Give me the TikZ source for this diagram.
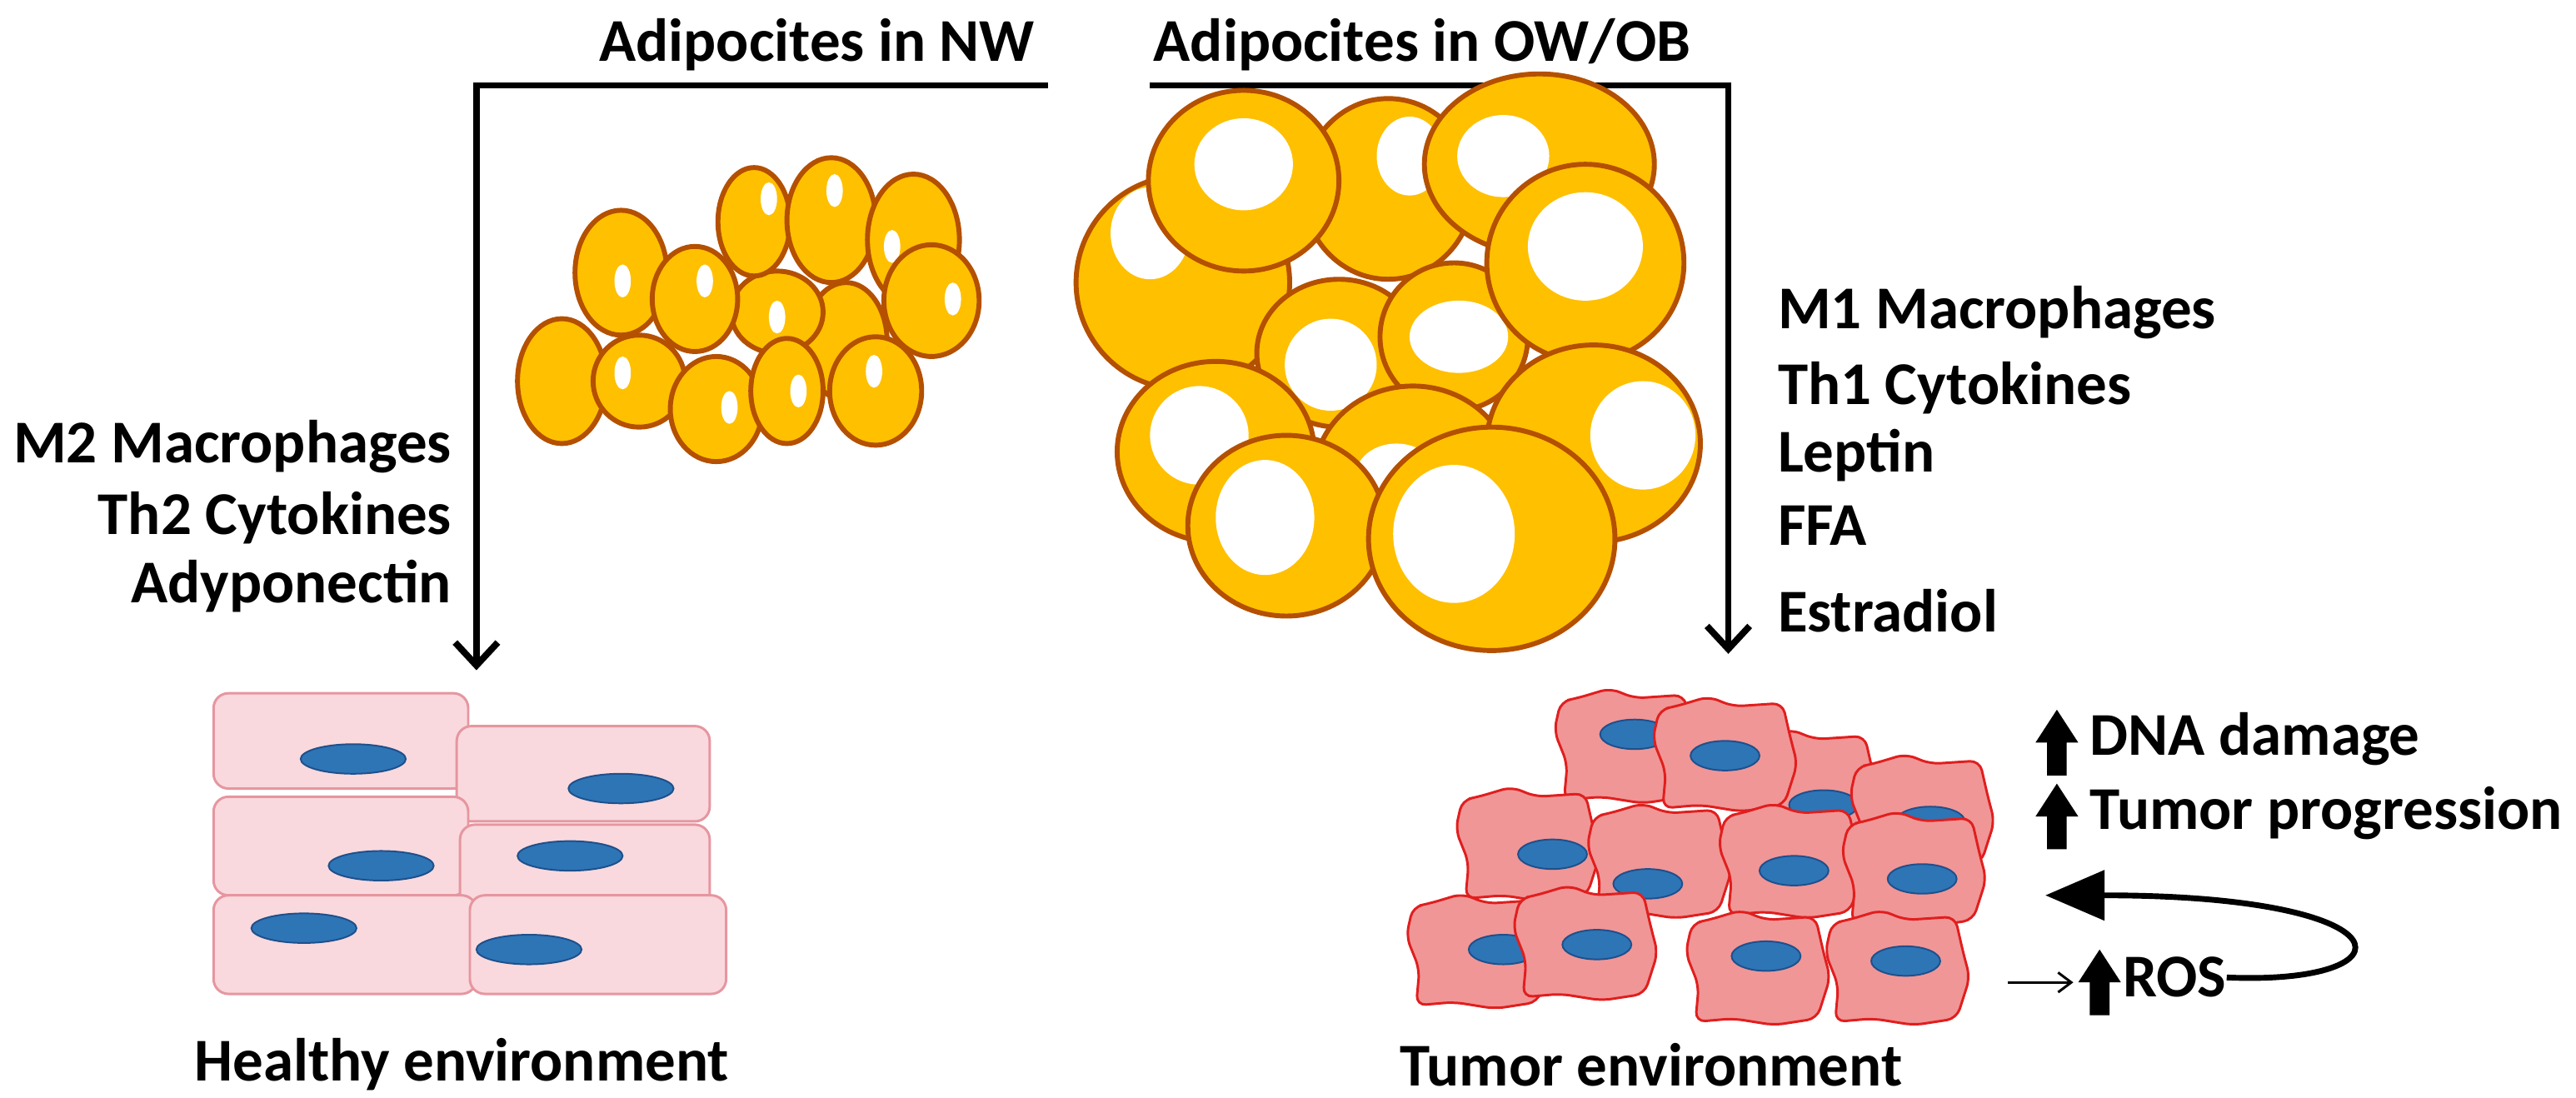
\documentclass[tikz,border=0pt]{standalone}
\usepackage{fontspec}
\setmainfont{Carlito}
\usetikzlibrary{arrows.meta}
\definecolor{fatf}{RGB}{255,192,0}
\definecolor{fatd}{RGB}{180,80,0}
\definecolor{hpink}{RGB}{249,217,221}
\definecolor{hpinkd}{RGB}{230,150,160}
\definecolor{tpink}{RGB}{240,150,150}
\definecolor{tred}{RGB}{225,30,30}
\definecolor{nuc}{RGB}{46,117,182}
\definecolor{nucd}{RGB}{30,80,140}
\tikzset{
 lbl/.style={font=\fontsize{37}{42}\selectfont\bfseries, inner sep=0pt},
 flow/.style={line width=4pt, -{Straight Barb[length=14pt,width=26pt,line width=4pt]}},
 sfat/.style={fill=fatf, draw=fatd, line width=3pt},
 shl/.style={fill=white, draw=none},
 bfat/.style={fill=fatf, draw=fatd, line width=3pt},
 hcell/.style={fill=hpink, draw=hpinkd, line width=1.5pt, rounded corners=9pt},
 tcell/.style={fill=tpink, draw=tred, line width=1.5pt, rounded corners=6pt},
 nucl/.style={fill=nuc, draw=nucd, line width=1pt},
}
\newcommand{\upblk}[2]{\fill (#1-6,#2+20) -- (#1-6,#2) -- (#1-13,#2) -- (#1,#2-20) -- (#1+13,#2) -- (#1+6,#2) -- (#1+6,#2+20) -- cycle;}
\newcommand{\tc}[4]{% x y nucx nucy
 \draw[tcell] (#1-40,#2-28) -- (#1-30,#2-30) -- (#1-10,#2-36) -- (#1+5,#2-30) -- (#1+35,#2-32) -- (#1+40,#2-10) -- (#1+44,#2+5) -- (#1+36,#2+30) -- (#1+10,#2+34) -- (#1-15,#2+30) -- (#1-38,#2+32) -- (#1-36,#2+10) -- (#1-44,#2-10) -- cycle;
 \draw[nucl] (#3,#4) ellipse [x radius=21, y radius=9];}
\begin{document}
\begin{tikzpicture}[x=1pt,y=-1pt]
\useasboundingbox (0,0) rectangle (1568,668);
% titles
\node[lbl, anchor=east] (tnw) at (630,27) {Adipocites in NW};
\node[lbl, anchor=west] (tob) at (702,27) {Adipocites in OW/OB};
\coordinate (l1) at (638,52); \coordinate (l2) at (290,52); \coordinate (l3) at (290,408);
\coordinate (r1) at (700,52); \coordinate (r2) at (1052,52); \coordinate (r3) at (1052,398);
\draw[flow] (l1) -- (l2) -- (l3);
\draw[flow] (r1) -- (r2) -- (r3);
% left labels
\node[lbl, anchor=east] (m2) at (275,272) {M2 Macrophages};
\node[lbl, anchor=east] (th2) at (275,315) {Th2 Cytokines};
\node[lbl, anchor=east] (ady) at (275,357) {Adyponectin};
% right labels
\node[lbl, anchor=west] (m1) at (1082,190) {M1 Macrophages};
\node[lbl, anchor=west] (th1) at (1082,236) {Th1 Cytokines};
\node[lbl, anchor=west] (lep) at (1082,277) {Leptin};
\node[lbl, anchor=west] (ffa) at (1082,320) {FFA};
\node[lbl, anchor=west] (est) at (1082,372) {Estradiol};
\node[lbl] (he) at (281,648) {Healthy environment};
\node[lbl] (te) at (1005,648) {Tumor environment};
% small adipocytes
\draw[sfat] (515,208) ellipse [x radius=25, y radius=36];
\draw[sfat] (473,190) ellipse [x radius=28, y radius=25];
\fill[shl] (473,193) ellipse [x radius=5, y radius=10];
\draw[sfat] (342,232) ellipse [x radius=27, y radius=38];
\draw[sfat] (378,166) ellipse [x radius=28, y radius=38];
\fill[shl] (379,171) ellipse [x radius=5, y radius=10];
\draw[sfat] (389,232) ellipse [x radius=28, y radius=28];
\fill[shl] (379,227) ellipse [x radius=5, y radius=10];
\draw[sfat] (423,182) ellipse [x radius=26, y radius=32];
\fill[shl] (429,171) ellipse [x radius=5, y radius=10];
\draw[sfat] (459,135) ellipse [x radius=22, y radius=33];
\fill[shl] (468,121) ellipse [x radius=5, y radius=10];
\draw[sfat] (506,134) ellipse [x radius=27, y radius=38];
\fill[shl] (508,116) ellipse [x radius=5, y radius=10];
\draw[sfat] (556,146) ellipse [x radius=28, y radius=40];
\fill[shl] (543,150) ellipse [x radius=5, y radius=10];
\draw[sfat] (567,183) ellipse [x radius=29, y radius=34];
\fill[shl] (580,182) ellipse [x radius=5, y radius=10];
\draw[sfat] (436,249) ellipse [x radius=28, y radius=32];
\fill[shl] (444,248) ellipse [x radius=5, y radius=10];
\draw[sfat] (479,238) ellipse [x radius=22, y radius=32];
\fill[shl] (486,238) ellipse [x radius=5, y radius=10];
\draw[sfat] (533,238) ellipse [x radius=28, y radius=33];
\fill[shl] (532,226) ellipse [x radius=5, y radius=10];
% large adipocytes
\draw[bfat] (845,115) ellipse [x radius=52, y radius=55]; \fill[shl] (858,95) ellipse [x radius=20, y radius=24];
\draw[bfat] (720,172) ellipse [x radius=65, y radius=65]; \fill[shl] (700,142) ellipse [x radius=24, y radius=28];
\draw[bfat] (757,110) ellipse [x radius=58, y radius=55]; \fill[shl] (757,100) ellipse [x radius=30, y radius=28];
\draw[bfat] (937,100) ellipse [x radius=70, y radius=55]; \fill[shl] (915,95) ellipse [x radius=28, y radius=25];
\draw[bfat] (815,215) ellipse [x radius=50, y radius=45]; \fill[shl] (810,222) ellipse [x radius=28, y radius=28];
\draw[bfat] (885,205) ellipse [x radius=45, y radius=45]; \fill[shl] (888,205) ellipse [x radius=30, y radius=22];
\draw[bfat] (965,160) ellipse [x radius=60, y radius=60]; \fill[shl] (965,150) ellipse [x radius=35, y radius=33];
\draw[bfat] (740,275) ellipse [x radius=60, y radius=55]; \fill[shl] (730,265) ellipse [x radius=30, y radius=30];
\draw[bfat] (860,290) ellipse [x radius=60, y radius=55]; \fill[shl] (850,290) ellipse [x radius=25, y radius=20];
\draw[bfat] (970,270) ellipse [x radius=65, y radius=60]; \fill[shl] (1000,265) ellipse [x radius=32, y radius=33];
\draw[bfat] (783,320) ellipse [x radius=60, y radius=55]; \fill[shl] (770,315) ellipse [x radius=30, y radius=35];
\draw[bfat] (908,328) ellipse [x radius=75, y radius=68]; \fill[shl] (885,325) ellipse [x radius=37, y radius=42];
% healthy cells
\draw[hcell] (130,422) rectangle (285,480); \draw[nucl] (215,462) ellipse [x radius=32, y radius=9];
\draw[hcell] (278,442) rectangle (432,500); \draw[nucl] (378,480) ellipse [x radius=32, y radius=9];
\draw[hcell] (130,485) rectangle (285,545); \draw[nucl] (232,527) ellipse [x radius=32, y radius=9];
\draw[hcell] (280,502) rectangle (432,560); \draw[nucl] (347,521) ellipse [x radius=32, y radius=9];
\draw[hcell] (130,545) rectangle (290,605); \draw[nucl] (185,565) ellipse [x radius=32, y radius=9];
\draw[hcell] (286,545) rectangle (442,605); \draw[nucl] (322,578) ellipse [x radius=32, y radius=9];
% tumor cells
\tc{1100}{480}{1110}{490}
\tc{1170}{495}{1175}{500}
\tc{990}{455}{995}{447}
\tc{1050}{460}{1050}{460}
\tc{930}{515}{945}{520}
\tc{1010}{525}{1003}{538}
\tc{1090}{525}{1092}{530}
\tc{1165}{530}{1170}{535}
\tc{900}{580}{915}{578}
\tc{965}{575}{972}{575}
\tc{1070}{590}{1075}{582}
\tc{1155}{590}{1160}{585}
% effects
\upblk{1252}{452}
\node[lbl, anchor=west] (dna) at (1272,450) {DNA damage};
\upblk{1252}{497}
\node[lbl, anchor=west] (tp) at (1272,495) {Tumor progression};
\coordinate (rs) at (1222,598); \coordinate (re) at (1262,598);
\draw[line width=1.5pt, -{Straight Barb[length=8pt,width=12pt]}] (rs) -- (re);
\upblk{1278}{598}
\node[lbl, anchor=west] (ros) at (1292,595) {ROS};
\coordinate (loopend) at (1245,545);
\draw[line width=3.5pt, -{Triangle[length=36pt,width=30pt]}] (ros.east) .. controls (1470,600) and (1470,545) .. (loopend);
\end{tikzpicture}
\end{document}
